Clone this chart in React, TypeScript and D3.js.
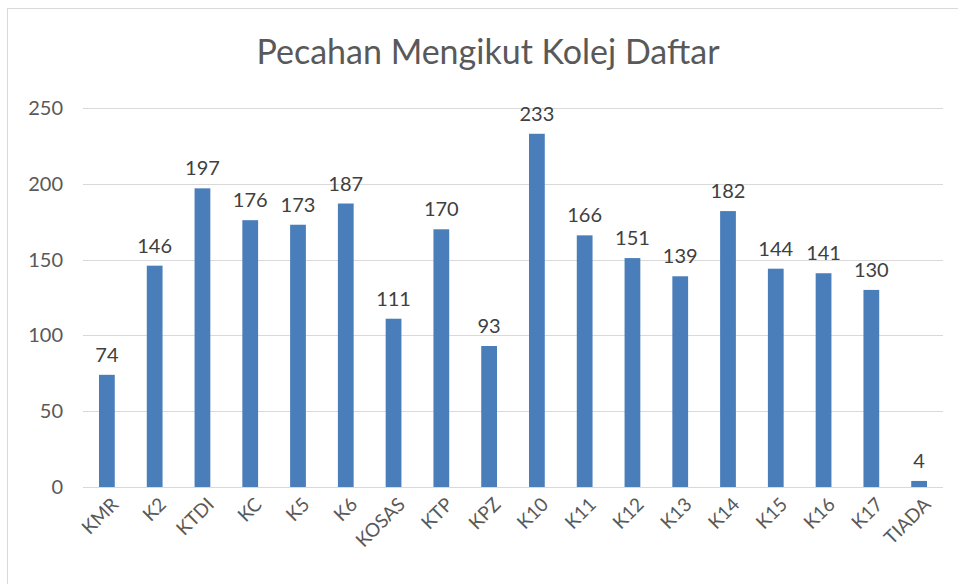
import React, { useEffect, useRef } from 'react';
import * as d3 from 'd3';

const categories = ['KMR', 'K2', 'KTDI', 'KC', 'K5', 'K6', 'KOSAS', 'KTP', 'KPZ', 'K10', 'K11', 'K12', 'K13', 'K14', 'K15', 'K16', 'K17', 'TIADA'];
const values = [74, 146, 197, 176, 173, 187, 111, 170, 93, 233, 166, 151, 139, 182, 144, 141, 130, 4];
const yTicks = [0, 50, 100, 150, 200, 250];
const title = 'Pecahan Mengikut Kolej Daftar';

const W = 958;
const H = 584;
const FONT = 'Lato, "Open Sans", sans-serif';

export default function App() {
  const svgRef = useRef<SVGSVGElement>(null);

  useEffect(() => {
    document.body.style.margin = '0';
    const svg = d3.select(svgRef.current);
    svg.selectAll('*').remove();

    const left = 83, right = 943, top = 108, bottom = 487;

    // chart frame
    svg.append('rect')
      .attr('x', 7.5).attr('y', 8.5)
      .attr('width', W + 10).attr('height', H + 10)
      .attr('fill', '#fff').attr('stroke', '#d9d9d9');

    svg.append('text')
      .attr('x', 488).attr('y', 64)
      .attr('text-anchor', 'middle')
      .style('font-family', FONT).style('font-size', '34px')
      .attr('fill', '#595959')
      .text(title);

    const x = d3.scaleBand<string>().domain(categories).range([left, right]).paddingInner(0.67).paddingOuter(0.335);
    const y = d3.scaleLinear().domain([0, 250]).range([bottom, top]);

    // gridlines
    svg.append('g').selectAll('line').data(yTicks).enter().append('line')
      .attr('x1', left).attr('x2', right)
      .attr('y1', d => Math.round(y(d)) + 0.5).attr('y2', d => Math.round(y(d)) + 0.5)
      .attr('stroke', '#d9d9d9').attr('stroke-width', 1);

    svg.append('g').selectAll('text').data(yTicks).enter().append('text')
      .attr('x', 63).attr('y', d => y(d) + 7)
      .attr('text-anchor', 'end')
      .style('font-family', FONT).style('font-size', '20px')
      .attr('fill', '#595959')
      .text(d => d);

    const data = categories.map((c, i) => ({ c, v: values[i] }));

    svg.append('g').selectAll('rect').data(data).enter().append('rect')
      .attr('x', d => x(d.c)!)
      .attr('width', x.bandwidth())
      .attr('y', d => y(d.v))
      .attr('height', d => bottom - y(d.v))
      .attr('fill', '#4a7ebb');

    svg.append('g').selectAll('text').data(data).enter().append('text')
      .attr('x', d => x(d.c)! + x.bandwidth() / 2)
      .attr('y', d => y(d.v) - 13)
      .attr('text-anchor', 'middle')
      .style('font-family', FONT).style('font-size', '20px')
      .attr('fill', '#404040')
      .text(d => d.v);

    // rotated category labels
    svg.append('g').selectAll('text').data(categories).enter().append('text')
      .attr('transform', d => `translate(${x(d)! + x.bandwidth() / 2 + 8},${bottom + 14}) rotate(-45)`)
      .attr('text-anchor', 'end')
      .attr('dy', '0.35em')
      .style('font-family', FONT).style('font-size', '19px')
      .attr('fill', '#595959')
      .text(d => d);
  }, []);

  return <svg ref={svgRef} width={W} height={H} style={{ display: 'block' }} />;
}
